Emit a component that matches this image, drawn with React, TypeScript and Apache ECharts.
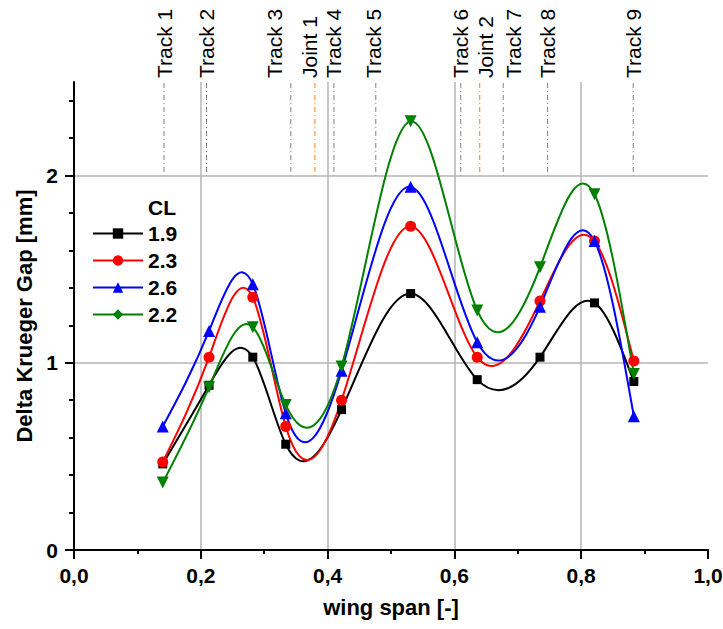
import React, { useEffect, useRef } from 'react';
import * as echarts from 'echarts';

// ---------- data ----------
const spanX = [0.14, 0.213, 0.282, 0.334, 0.422, 0.531, 0.636, 0.735, 0.821, 0.883];
const gapCL19 = [0.46, 0.88, 1.03, 0.565, 0.75, 1.37, 0.91, 1.03, 1.32, 0.9];
const gapCL23 = [0.47, 1.03, 1.35, 0.66, 0.8, 1.73, 1.03, 1.33, 1.65, 1.01];
const gapCL26 = [0.66, 1.17, 1.42, 0.73, 0.957, 1.94, 1.11, 1.3, 1.65, 0.715];
const gapCL22 = [0.36, 0.87, 1.19, 0.775, 0.98, 2.29, 1.28, 1.51, 1.9, 0.94];

const trackPos = [0.142, 0.209, 0.342, 0.38, 0.41, 0.476, 0.61, 0.64, 0.677, 0.747, 0.882];
const trackNames = ['Track 1', 'Track 2', 'Track 3', 'Joint 1', 'Track 4', 'Track 5', 'Track 6', 'Joint 2', 'Track 7', 'Track 8', 'Track 9'];

const yMajorTicks = [0, 1, 2];
const yMinorTicks = [0.2, 0.4, 0.6, 0.8, 1.2, 1.4, 1.6, 1.8, 2.2, 2.4];
const legendTitle = 'CL';

// ---------- styling ----------
const FONT = '"Liberation Sans", Arial, Helvetica, sans-serif';
const labelShift: Record<string, number> = { 'Track 3': -16, 'Joint 1': -5, 'Track 5': -2, 'Joint 2': 6, 'Track 7': 10 };

const seriesDefs = [
  { name: '1.9', values: gapCL19, color: '#000000', symbol: 'rect', size: 9, rotate: 0, legendSymbol: 'rect' },
  { name: '2.3', values: gapCL23, color: '#ff0000', symbol: 'circle', size: 11, rotate: 0, legendSymbol: 'circle' },
  { name: '2.6', values: gapCL26, color: '#0000ff', symbol: 'triangle', size: 12, rotate: 0, legendSymbol: 'triangle' },
  { name: '2.2', values: gapCL22, color: '#008000', symbol: 'triangle', size: 12, rotate: 180, legendSymbol: 'diamond' },
];

// natural cubic spline through pixel points, returned as exact Bezier segments
function splineBeziers(pts: number[][]) {
  const n = pts.length;
  const X = pts.map((p) => p[0]);
  const Y = pts.map((p) => p[1]);
  const h: number[] = [];
  for (let i = 0; i < n - 1; i++) h.push(X[i + 1] - X[i]);
  const M = new Array(n).fill(0);
  const cp = new Array(n).fill(0);
  const dp = new Array(n).fill(0);
  for (let i = 1; i < n - 1; i++) {
    const a = h[i - 1];
    const b = 2 * (h[i - 1] + h[i]);
    const c = h[i];
    const d = 6 * ((Y[i + 1] - Y[i]) / h[i] - (Y[i] - Y[i - 1]) / h[i - 1]);
    const den = b - a * cp[i - 1];
    cp[i] = c / den;
    dp[i] = (d - a * dp[i - 1]) / den;
  }
  for (let i = n - 2; i >= 1; i--) M[i] = dp[i] - cp[i] * M[i + 1];
  const segs: any[] = [];
  for (let i = 0; i < n - 1; i++) {
    const hh = h[i];
    const s = (Y[i + 1] - Y[i]) / hh;
    const mL = s - (hh * (2 * M[i] + M[i + 1])) / 6;
    const mR = s + (hh * (M[i] + 2 * M[i + 1])) / 6;
    segs.push({
      x1: X[i],
      y1: Y[i],
      cpx1: X[i] + hh / 3,
      cpy1: Y[i] + (mL * hh) / 3,
      cpx2: X[i + 1] - hh / 3,
      cpy2: Y[i + 1] - (mR * hh) / 3,
      x2: X[i + 1],
      y2: Y[i + 1],
    });
  }
  return segs;
}

export default function App() {
  const ref = useRef<HTMLDivElement>(null);

  useEffect(() => {
    if (!ref.current) return;
    const chart = echarts.init(ref.current, undefined, { renderer: 'svg' });

    const curveSeries = seriesDefs.map((def) => ({
      type: 'custom',
      name: 'curve ' + def.name,
      silent: true,
      z: 2,
      data: spanX.map((x, i) => [x, def.values[i]]),
      renderItem: (params: any, api: any) => {
        if (params.dataIndex !== 0) return null;
        const pts = def.values.map((v, i) => api.coord([spanX[i], v]));
        const segs = splineBeziers(pts);
        return {
          type: 'group',
          children: segs.map((s) => ({
            type: 'bezierCurve',
            shape: s,
            style: { stroke: def.color, lineWidth: 2, fill: 'none', lineCap: 'round' },
          })),
        };
      },
    }));

    const markerSeries = seriesDefs.map((def) => ({
      type: 'scatter',
      name: 'points ' + def.name,
      silent: true,
      z: 3,
      symbol: def.symbol,
      symbolSize: def.size,
      symbolRotate: def.rotate,
      itemStyle: { color: def.color, opacity: 1 },
      data: spanX.map((x, i) => [x, def.values[i]]),
    }));

    const legendSeries = seriesDefs.map((def) => ({
      type: 'line',
      name: def.name,
      data: [],
      symbol: def.legendSymbol,
      symbolSize: 10,
      itemStyle: { color: def.color },
      lineStyle: { color: def.color, width: 2 },
    }));

    const trackSeries = {
      type: 'custom',
      name: 'tracks',
      silent: true,
      z: 1,
      data: trackPos.map((p) => [p, 2]),
      renderItem: (params: any, api: any) => {
        const i = params.dataIndex;
        const x = api.value(0);
        const top = api.coord([x, 2.5]);
        const bot = api.coord([x, 2]);
        const name = trackNames[i];
        const isJoint = name.indexOf('Joint') === 0;
        return {
          type: 'group',
          children: [
            {
              type: 'line',
              shape: { x1: top[0], y1: top[1] + 1, x2: bot[0], y2: bot[1] },
              style: { stroke: isJoint ? '#ff8000' : '#808080', lineWidth: 1, lineDash: [5, 3, 1, 3] },
            },
            {
              type: 'text',
              x: top[0] + (labelShift[name] || 0),
              y: top[1] - 4,
              rotation: Math.PI / 2,
              style: {
                text: name,
                fontSize: 21,
                fontFamily: FONT,
                fill: '#000000',
                align: 'left',
                verticalAlign: 'middle',
              },
            },
          ],
        };
      },
    };

    const option: any = {
      animation: false,
      backgroundColor: '#ffffff',
      title: {
        text: legendTitle,
        left: 148,
        top: 197,
        padding: 0,
        textStyle: { fontSize: 21, fontWeight: 'bold', color: '#000000', fontFamily: FONT },
      },
      legend: {
        data: seriesDefs.map((d) => d.name),
        orient: 'vertical',
        left: 92,
        top: 223,
        padding: 0,
        itemWidth: 50,
        itemHeight: 13,
        itemGap: 6,
        selectedMode: false,
        textStyle: { fontSize: 21, fontWeight: 'bold', color: '#000000', fontFamily: FONT },
      },
      grid: { left: 74, right: 15, top: 82, bottom: 79, outerBoundsMode: 'none' },
      xAxis: {
        type: 'value',
        min: 0,
        max: 1,
        interval: 0.2,
        name: 'wing span [-]',
        nameLocation: 'middle',
        nameGap: 46,
        nameTextStyle: { fontSize: 22, fontWeight: 'bold', color: '#000000', fontFamily: FONT },
        axisLine: { show: true, onZero: false, lineStyle: { color: '#000000', width: 2 } },
        axisTick: { show: true, length: 9, lineStyle: { color: '#000000', width: 2 } },
        minorTick: { show: true, splitNumber: 2, length: 4, lineStyle: { color: '#000000', width: 2 } },
        axisLabel: {
          margin: 15,
          fontSize: 21,
          fontWeight: 'bold',
          color: '#000000',
          fontFamily: FONT,
          formatter: (v: number) => v.toFixed(1).replace('.', ','),
        },
        splitLine: { show: true, showMinLine: false, showMaxLine: false, lineStyle: { color: '#b4b4b4', width: 1.5 } },
      },
      yAxis: [
        {
          type: 'value',
          min: 0,
          max: 2.5,
          interval: 1,
          position: 'left',
          name: 'Delta Krueger Gap [mm]',
          nameLocation: 'middle',
          nameGap: 38,
          nameTextStyle: { fontSize: 22, fontWeight: 'bold', color: '#000000', fontFamily: FONT },
          axisLine: { show: true, onZero: false, lineStyle: { color: '#000000', width: 2 } },
          axisTick: { show: true, length: 9, customValues: yMajorTicks, lineStyle: { color: '#000000', width: 2 } },
          axisLabel: {
            margin: 16,
            fontSize: 21,
            fontWeight: 'bold',
            color: '#000000',
            fontFamily: FONT,
            customValues: yMajorTicks,
            formatter: (v: number) => String(v),
          },
          splitLine: { show: true, showMinLine: false, lineStyle: { color: '#b4b4b4', width: 1.5 } },
        },
        {
          type: 'value',
          min: 0,
          max: 2.5,
          interval: 0.2,
          position: 'left',
          offset: 0,
          axisLine: { show: false },
          axisTick: { show: true, length: 5, customValues: yMinorTicks, lineStyle: { color: '#000000', width: 2 } },
          axisLabel: { show: false },
          splitLine: { show: false },
        },
      ],
      series: [trackSeries, ...curveSeries, ...markerSeries, ...legendSeries],
    };

    chart.setOption(option);
    return () => chart.dispose();
  }, []);

  return (
    <div
      ref={ref}
      style={{ position: 'absolute', left: 0, top: 0, width: 723, height: 629, background: '#ffffff' }}
    />
  );
}
